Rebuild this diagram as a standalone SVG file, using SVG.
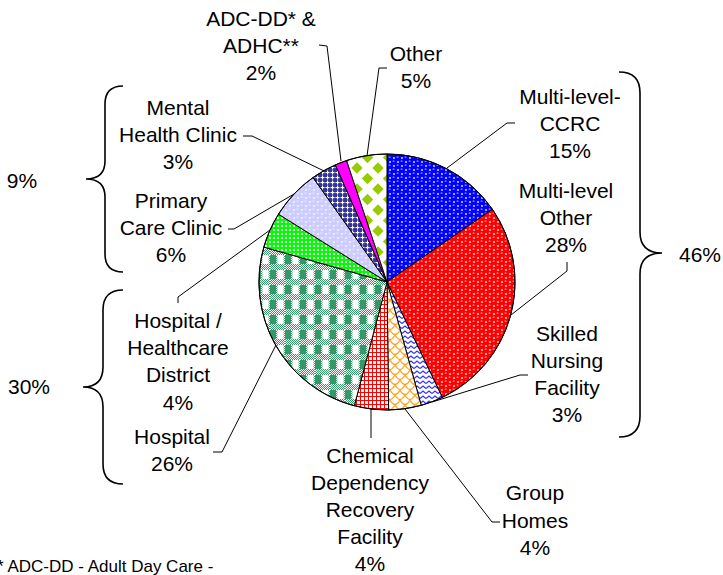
<svg xmlns="http://www.w3.org/2000/svg" width="723" height="575" viewBox="0 0 723 575">
<style>
text{font-family:"Liberation Sans",Arial,sans-serif;font-size:21px;fill:#000;text-anchor:middle}
.note{font-size:17px;text-anchor:start}
.slice{stroke:#000;stroke-width:1}
.lead{fill:none;stroke:#000;stroke-width:1}
.brace{fill:none;stroke:#000;stroke-width:1.6}
</style>
<defs>
<pattern id="pBlue" width="8" height="8" patternUnits="userSpaceOnUse">
<rect width="8" height="8" fill="#fff"/>
<circle cx="2" cy="2" r="3.3" fill="#0000ff"/><circle cx="6" cy="6" r="3.3" fill="#0000ff"/>
<circle cx="10" cy="2" r="3.3" fill="#0000ff"/><circle cx="6" cy="-2" r="3.3" fill="#0000ff"/>
<circle cx="-2" cy="6" r="3.3" fill="#0000ff"/><circle cx="2" cy="10" r="3.3" fill="#0000ff"/>
<ellipse cx="1.6" cy="1.1" rx="1.2" ry="0.6" fill="#aaaaff"/><ellipse cx="5.6" cy="5.1" rx="1.2" ry="0.6" fill="#aaaaff"/>
</pattern>
<pattern id="pRed" width="8" height="8" patternUnits="userSpaceOnUse">
<rect width="8" height="8" fill="#fff"/>
<circle cx="2" cy="2" r="3.3" fill="#ff0000"/><circle cx="6" cy="6" r="3.3" fill="#ff0000"/>
<circle cx="10" cy="2" r="3.3" fill="#ff0000"/><circle cx="6" cy="-2" r="3.3" fill="#ff0000"/>
<circle cx="-2" cy="6" r="3.3" fill="#ff0000"/><circle cx="2" cy="10" r="3.3" fill="#ff0000"/>
<ellipse cx="1.6" cy="1.1" rx="1.2" ry="0.6" fill="#ffaaaa"/><ellipse cx="5.6" cy="5.1" rx="1.2" ry="0.6" fill="#ffaaaa"/>
</pattern>
<pattern id="pLav" width="8" height="8" patternUnits="userSpaceOnUse">
<rect width="8" height="8" fill="#fff"/>
<circle cx="2" cy="2" r="3.3" fill="#ccccff"/><circle cx="6" cy="6" r="3.3" fill="#ccccff"/>
<circle cx="10" cy="2" r="3.3" fill="#ccccff"/><circle cx="6" cy="-2" r="3.3" fill="#ccccff"/>
<circle cx="-2" cy="6" r="3.3" fill="#ccccff"/><circle cx="2" cy="10" r="3.3" fill="#ccccff"/>
<ellipse cx="1.6" cy="1.1" rx="1.2" ry="0.6" fill="#eeeeff"/><ellipse cx="5.6" cy="5.1" rx="1.2" ry="0.6" fill="#eeeeff"/>
</pattern>
<pattern id="pChk" width="2" height="2" patternUnits="userSpaceOnUse">
<rect width="2" height="2" fill="#339966"/><rect width="1" height="1" fill="#fff"/><rect x="1" y="1" width="1" height="1" fill="#fff"/>
</pattern>
<pattern id="pGing" width="15" height="15" patternUnits="userSpaceOnUse">
<rect width="15" height="15" fill="#fff"/>
<rect y="9" width="15" height="6" fill="url(#pChk)"/>
<rect x="6" y="0" width="1.5" height="9" fill="url(#pChk)"/>
<rect x="13.5" y="0" width="1.5" height="9" fill="url(#pChk)"/>
<rect width="6" height="9" fill="#339966"/>
</pattern>
<pattern id="pLime" width="4" height="4" patternUnits="userSpaceOnUse">
<rect width="4" height="4" fill="#00ff00"/><rect x="1" y="1" width="2" height="2" fill="#fff"/>
</pattern>
<pattern id="pGrid" width="4" height="4" patternUnits="userSpaceOnUse">
<rect width="4" height="4" fill="#fff"/><rect width="1" height="4" fill="#ff0000"/><rect width="4" height="1" fill="#ff0000"/>
</pattern>
<pattern id="pScale" width="10" height="10" patternUnits="userSpaceOnUse">
<rect width="10" height="10" fill="#fff"/>
<path d="M0,0 Q5,9 10,0 M-5,5 Q0,14 5,5 M5,5 Q10,14 15,5 M-5,-5 Q0,4 5,-5 M5,-5 Q10,4 15,-5" fill="none" stroke="#ffa31a" stroke-width="1.3"/>
</pattern>
<pattern id="pZig" width="6" height="5" patternUnits="userSpaceOnUse">
<rect width="6" height="5" fill="#fff"/>
<path d="M0,3.5 L3,1 L6,3.5" fill="none" stroke="#3333ff" stroke-width="1.3"/>
</pattern>
<pattern id="pNavy" width="5" height="5" patternUnits="userSpaceOnUse">
<rect width="5" height="5" fill="#333399"/>
<rect x="2" y="0.5" width="1.1" height="4" fill="#fff"/><rect x="0.5" y="2" width="4" height="1.1" fill="#fff"/>
</pattern>
<pattern id="pDia" width="21" height="21" patternUnits="userSpaceOnUse">
<rect width="21" height="21" fill="#fff"/>
<path d="M10.5,4.8 L16.2,10.5 L10.5,16.2 L4.8,10.5 Z M0,-5.7 L5.7,0 L0,5.7 L-5.7,0 Z M21,-5.7 L26.7,0 L21,5.7 L15.3,0 Z M0,15.3 L5.7,21 L0,26.7 L-5.7,21 Z M21,15.3 L26.7,21 L21,26.7 L15.3,21 Z" fill="#99cc00"/>
</pattern>
</defs>

<g id="pie">
<g id="ccrc"><path class="slice" fill="url(#pBlue)" d="M387,282 L387,154 A128,128 0 0 1 492.4,209.3 Z"/></g>
<g id="mlother"><path class="slice" fill="url(#pRed)" d="M387,282 L492.4,209.3 A128,128 0 0 1 442.3,397.4 Z"/></g>
<g id="snf"><path class="slice" fill="url(#pZig)" d="M387,282 L442.3,397.4 A128,128 0 0 1 421.2,405.3 Z"/></g>
<g id="group"><path class="slice" fill="url(#pScale)" d="M387,282 L421.2,405.3 A128,128 0 0 1 388.6,410 Z"/></g>
<g id="chem"><path class="slice" fill="url(#pGrid)" d="M387,282 L388.6,410 A128,128 0 0 1 354.3,405.8 Z"/></g>
<g id="hospital"><path class="slice" fill="url(#pGing)" d="M387,282 L354.3,405.8 A128,128 0 0 1 263.8,247.1 Z"/></g>
<g id="hcd"><path class="slice" fill="url(#pLime)" d="M387,282 L263.8,247.1 A128,128 0 0 1 278.5,214.2 Z"/></g>
<g id="primary"><path class="slice" fill="url(#pLav)" d="M387,282 L278.5,214.2 A128,128 0 0 1 313,177.5 Z"/></g>
<g id="mental"><path class="slice" fill="url(#pNavy)" d="M387,282 L313,177.5 A128,128 0 0 1 335.4,164.9 Z"/></g>
<g id="adc"><path class="slice" fill="#ff00ff" d="M387,282 L335.4,164.9 A128,128 0 0 1 346.6,160.5 Z"/></g>
<g id="other"><path class="slice" fill="url(#pDia)" d="M387,282 L346.6,160.5 A128,128 0 0 1 387,154 Z"/></g>
<circle cx="387" cy="282" r="128" fill="none" stroke="#000" stroke-width="1"/>
</g>

<g id="connectors">
<polyline class="lead" points="319,45 327,46 341,161"/>
<polyline class="lead" points="387,68 379,68 367,156"/>
<polyline class="lead" points="243,136 252,136 324,171"/>
<polyline class="lead" points="228,229 234,229 294,194"/>
<polyline class="lead" points="178,303 178,297 270,230"/>
<polyline class="lead" points="213,452 222,452 276,345"/>
<polyline class="lead" points="371,409 371,438"/>
<polyline class="lead" points="405,409 492,522 500,522"/>
<polyline class="lead" points="432,402 520,375 528,375"/>
<polyline class="lead" points="567,262 567,271 511,315"/>
<polyline class="lead" points="515,123 507,123 447,168"/>
</g>

<g id="braces">
<path class="brace" d="M123,86 Q105,86 105,104 L105,161 Q105,179 86,179 Q105,179 105,197 L105,254 Q105,272 123,272"/>
<path class="brace" d="M123,290 Q103,290 103,310 L103,367 Q103,387 83,387 Q103,387 103,407 L103,464 Q103,484 123,484"/>
<path class="brace" d="M619,72 Q640,72 640,93 L640,232 Q640,253 662,253 Q640,253 640,274 L640,416 Q640,437 619,437"/>
</g>

<g id="labels">
<g id="lbl-adc"><text x="261" y="26">ADC-DD* &amp;</text><text x="261" y="53">ADHC**</text><text x="261" y="80">2%</text></g>
<g id="lbl-other"><text x="416" y="61">Other</text><text x="416" y="88">5%</text></g>
<g id="lbl-ccrc"><text x="570" y="104">Multi-level-</text><text x="570" y="131">CCRC</text><text x="570" y="158">15%</text></g>
<g id="lbl-mlother"><text x="566" y="198">Multi-level</text><text x="566" y="225">Other</text><text x="566" y="252">28%</text></g>
<g id="lbl-snf"><text x="567" y="341">Skilled</text><text x="567" y="368">Nursing</text><text x="567" y="395">Facility</text><text x="567" y="422">3%</text></g>
<g id="lbl-46"><text x="700" y="262">46%</text></g>
<g id="lbl-group"><text x="535" y="500">Group</text><text x="535" y="528">Homes</text><text x="535" y="555">4%</text></g>
<g id="lbl-chem"><text x="370" y="463">Chemical</text><text x="370" y="490">Dependency</text><text x="370" y="517">Recovery</text><text x="370" y="544">Facility</text><text x="370" y="571">4%</text></g>
<g id="lbl-hospital"><text x="172" y="444">Hospital</text><text x="172" y="471">26%</text></g>
<g id="lbl-hcd"><text x="178" y="328">Hospital /</text><text x="178" y="355">Healthcare</text><text x="178" y="382">District</text><text x="178" y="410">4%</text></g>
<g id="lbl-mental"><text x="178" y="115">Mental</text><text x="178" y="142">Health Clinic</text><text x="178" y="169">3%</text></g>
<g id="lbl-primary"><text x="171" y="208">Primary</text><text x="171" y="235">Care Clinic</text><text x="171" y="262">6%</text></g>
<g id="lbl-9"><text x="22" y="188">9%</text></g>
<g id="lbl-30"><text x="29" y="394">30%</text></g>
<text class="note" x="-3" y="572">* ADC-DD - Adult Day Care -</text>
</g>
</svg>
